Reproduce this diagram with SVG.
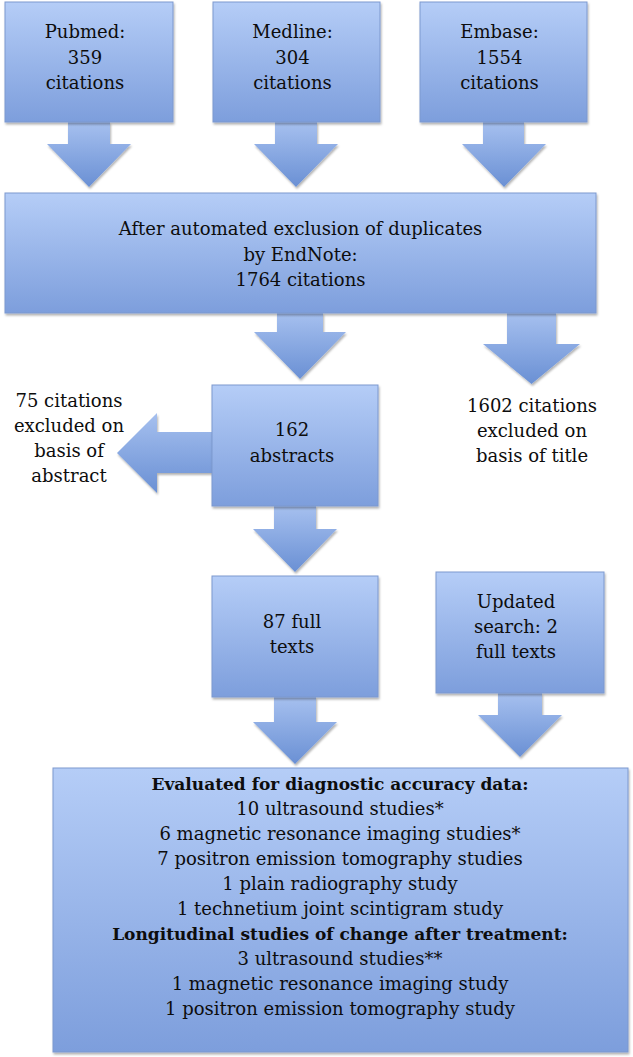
<svg xmlns="http://www.w3.org/2000/svg" width="633" height="1057" viewBox="0 0 633 1057">
<style>
.box{fill:url(#gBox);stroke:#7d99cf;stroke-width:1;filter:url(#sh)}
.arr{fill:url(#gArr);filter:url(#sh)}
.arrL{fill:url(#gArrL);filter:url(#sh)}
text{font-family:"DejaVu Serif","Liberation Serif",serif;font-size:18px;fill:#0d0d0d;text-anchor:middle}
.b{font-weight:bold;font-size:17px}
</style>
<defs>
<linearGradient id="gBox" x1="0" y1="0" x2="0" y2="1">
<stop offset="0" stop-color="#b5cdf7"/>
<stop offset="1" stop-color="#7d9edc"/>
</linearGradient>
<linearGradient id="gArr" x1="0" y1="0" x2="0" y2="1">
<stop offset="0" stop-color="#a6c0ef"/>
<stop offset="1" stop-color="#6a90d4"/>
</linearGradient>
<linearGradient id="gArrL" x1="0" y1="0" x2="0" y2="1">
<stop offset="0" stop-color="#a6c0ef"/>
<stop offset="1" stop-color="#6a90d4"/>
</linearGradient>
<filter id="sh" x="-10%" y="-10%" width="120%" height="120%">
<feDropShadow dx="1" dy="2" stdDeviation="1.2" flood-color="#000" flood-opacity="0.3"/>
</filter>
</defs>

<g id="connectors">
<path class="arr" d="M68,122 H110 V144 H131 L89,187 L47,144 H68 Z"/>
<path class="arr" d="M275,122 H317 V144 H338 L296,187 L254,144 H275 Z"/>
<path class="arr" d="M483,122 H524 V144 H546 L504,187 L462,144 H483 Z"/>
<path class="arr" d="M277,313 H323 V332 H346 L300,379 L254,332 H277 Z"/>
<path class="arr" d="M507,313 H556 V344 H580 L531.5,384 L483,344 H507 Z"/>
<path class="arrL" d="M212,432 V473 H157 V493 L117,453 L157,413 V432 Z"/>
<path class="arr" d="M274,506 H316 V529 H337 L295,572 L253,529 H274 Z"/>
<path class="arr" d="M274,697 H316 V722 H337 L295,764 L253,722 H274 Z"/>
<path class="arr" d="M498,693 H542 V715 H562 L520,757 L478,715 H498 Z"/>
</g>

<g id="pubmed">
<rect class="box" x="5" y="2" width="168" height="120"/>
<text x="85" y="38">Pubmed:</text>
<text x="85" y="63.5">359</text>
<text x="85" y="89">citations</text>
</g>
<g id="medline">
<rect class="box" x="213" y="2" width="167" height="120"/>
<text x="292.5" y="38">Medline:</text>
<text x="292.5" y="63.5">304</text>
<text x="292.5" y="89">citations</text>
</g>
<g id="embase">
<rect class="box" x="420" y="2" width="167" height="120"/>
<text x="499.5" y="38">Embase:</text>
<text x="499.5" y="63.5">1554</text>
<text x="499.5" y="89">citations</text>
</g>
<g id="dedup">
<rect class="box" x="5" y="193" width="591" height="120"/>
<text x="300.5" y="235">After automated exclusion of duplicates</text>
<text x="300.5" y="260.5">by EndNote:</text>
<text x="300.5" y="286">1764 citations</text>
</g>
<g id="excluded-title">
<text x="532" y="412">1602 citations</text>
<text x="532" y="437">excluded on</text>
<text x="532" y="462">basis of title</text>
</g>
<g id="abstracts">
<rect class="box" x="212" y="385" width="166" height="121"/>
<text x="292" y="436">162</text>
<text x="292" y="461.5">abstracts</text>
</g>
<g id="excluded-abstract">
<text x="69" y="407">75 citations</text>
<text x="69" y="432">excluded on</text>
<text x="69" y="457">basis of</text>
<text x="69" y="482">abstract</text>
</g>
<g id="fulltexts">
<rect class="box" x="212" y="576" width="166" height="121"/>
<text x="292" y="628">87 full</text>
<text x="292" y="653">texts</text>
</g>
<g id="updated">
<rect class="box" x="436" y="572" width="168" height="121"/>
<text x="516" y="608">Updated</text>
<text x="516" y="633">search: 2</text>
<text x="516" y="657.5">full texts</text>
</g>
<g id="evaluated">
<rect class="box" x="53" y="768" width="575" height="284"/>
<text class="b" x="340" y="790">Evaluated for diagnostic accuracy data:</text>
<text x="340" y="815">10 ultrasound studies*</text>
<text x="340" y="840">6 magnetic resonance imaging studies*</text>
<text x="340" y="865">7 positron emission tomography studies</text>
<text x="340" y="890">1 plain radiography study</text>
<text x="340" y="915">1 technetium joint scintigram study</text>
<text class="b" x="340" y="940">Longitudinal studies of change after treatment:</text>
<text x="340" y="965">3 ultrasound studies**</text>
<text x="340" y="990">1 magnetic resonance imaging study</text>
<text x="340" y="1015">1 positron emission tomography study</text>
</g>
</svg>
